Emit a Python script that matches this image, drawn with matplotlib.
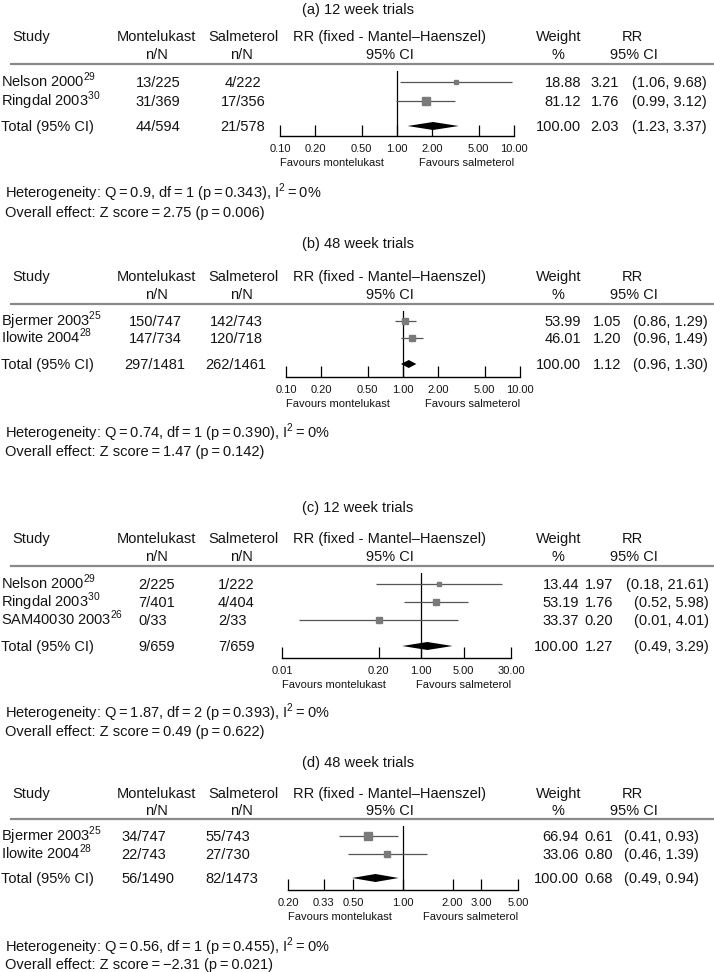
import matplotlib
matplotlib.use("Agg")
import numpy as np
import matplotlib.pyplot as plt
from matplotlib.lines import Line2D
from matplotlib.ticker import NullLocator

plt.rcParams["font.family"] = ["Liberation Sans", "DejaVu Sans"]

# -------------------------------------------------
# data
# (last entry of each list is the pooled total)
# -------------------------------------------------
a_study = ["Nelson 2000", "Ringdal 2003", "Total (95% CI)"]
a_ref = ["29", "30", ""]
a_mont = ["13/225", "31/369", "44/594"]
a_salm = ["4/222", "17/356", "21/578"]
a_weight = [18.88, 81.12, 100.00]
a_rr = [3.21, 1.76, 2.03]
a_lo = [1.06, 0.99, 1.23]
a_hi = [9.68, 3.12, 3.37]
a_ticks = [0.1, 0.2, 0.5, 1, 2, 5, 10]
a_ticklabels = ["0.10", "0.20", "0.50", "1.00", "2.00", "5.00", "10.00"]
a_het = "Heterogeneity: Q=0.9, df=1 (p=0.343), I$^{\\mathregular{2}}$=0%"
a_eff = "Overall effect: Z score=2.75 (p=0.006)"

b_study = ["Bjermer 2003", "Ilowite 2004", "Total (95% CI)"]
b_ref = ["25", "28", ""]
b_mont = ["150/747", "147/734", "297/1481"]
b_salm = ["142/743", "120/718", "262/1461"]
b_weight = [53.99, 46.01, 100.00]
b_rr = [1.05, 1.20, 1.12]
b_lo = [0.86, 0.96, 0.96]
b_hi = [1.29, 1.49, 1.30]
b_ticks = [0.1, 0.2, 0.5, 1, 2, 5, 10]
b_ticklabels = ["0.10", "0.20", "0.50", "1.00", "2.00", "5.00", "10.00"]
b_het = "Heterogeneity: Q=0.74, df=1 (p=0.390), I$^{\\mathregular{2}}$=0%"
b_eff = "Overall effect: Z score=1.47 (p=0.142)"

c_study = ["Nelson 2000", "Ringdal 2003", "SAM40030 2003", "Total (95% CI)"]
c_ref = ["29", "30", "26", ""]
c_mont = ["2/225", "7/401", "0/33", "9/659"]
c_salm = ["1/222", "4/404", "2/33", "7/659"]
c_weight = [13.44, 53.19, 33.37, 100.00]
c_rr = [1.97, 1.76, 0.20, 1.27]
c_lo = [0.18, 0.52, 0.01, 0.49]
c_hi = [21.61, 5.98, 4.01, 3.29]
# the left end of this axis is labelled 0.01 in the original
c_ticks = [0.0052, 0.2, 1, 5, 30]
c_ticklabels = ["0.01", "0.20", "1.00", "5.00", "30.00"]
c_het = "Heterogeneity: Q=1.87, df=2 (p=0.393), I$^{\\mathregular{2}}$=0%"
c_eff = "Overall effect: Z score=0.49 (p=0.622)"

d_study = ["Bjermer 2003", "Ilowite 2004", "Total (95% CI)"]
d_ref = ["25", "28", ""]
d_mont = ["34/747", "22/743", "56/1490"]
d_salm = ["55/743", "27/730", "82/1473"]
d_weight = [66.94, 33.06, 100.00]
d_rr = [0.61, 0.80, 0.68]
d_lo = [0.41, 0.46, 0.49]
d_hi = [0.93, 1.39, 0.94]
d_ticks = [0.2, 0.33, 0.5, 1, 2, 3, 5]
d_ticklabels = ["0.20", "0.33", "0.50", "1.00", "2.00", "3.00", "5.00"]
d_het = "Heterogeneity: Q=0.56, df=1 (p=0.455), I$^{\\mathregular{2}}$=0%"
d_eff = "Overall effect: Z score=\u22122.31 (p=0.021)"

titles = ["(a) 12 week trials", "(b) 48 week trials",
          "(c) 12 week trials", "(d) 48 week trials"]

# -------------------------------------------------
# layout (pixel positions on a 714 x 972 canvas)
# -------------------------------------------------
W, H = 714, 972
FS = 10.5
SMALL = 8
TXT = "#141414"
GREY = "#8a8a8a"
CI_COL = "#555555"
BOX_COL = "#7a7a7a"

panels = [
    dict(title=titles[0], study=a_study, ref=a_ref, mont=a_mont, salm=a_salm,
         weight=a_weight, rr=a_rr, lo=a_lo, hi=a_hi, ticks=a_ticks,
         ticklabels=a_ticklabels, het=a_het, eff=a_eff,
         y_title=9, y_h1=36, y_h2=54, y_div=64, y_rows=[82, 101, 126],
         y_axis=136, y_het=193, y_eff=212,
         ax_x=(280, 514), xlim=(0.1, 10),
         mont_col=(158, "center"), salm_col=(243, "center"),
         w_x=581, rr_x=619, ci_col=(632, "left")),
    dict(title=titles[1], study=b_study, ref=b_ref, mont=b_mont, salm=b_salm,
         weight=b_weight, rr=b_rr, lo=b_lo, hi=b_hi, ticks=b_ticks,
         ticklabels=b_ticklabels, het=b_het, eff=b_eff,
         y_title=243, y_h1=276, y_h2=294, y_div=304, y_rows=[321, 338, 364],
         y_axis=377, y_het=433, y_eff=451,
         ax_x=(286, 520), xlim=(0.1, 10),
         mont_col=(155, "center"), salm_col=(236, "center"),
         w_x=581, rr_x=621, ci_col=(633, "left")),
    dict(title=titles[2], study=c_study, ref=c_ref, mont=c_mont, salm=c_salm,
         weight=c_weight, rr=c_rr, lo=c_lo, hi=c_hi, ticks=c_ticks,
         ticklabels=c_ticklabels, het=c_het, eff=c_eff,
         y_title=507, y_h1=538, y_h2=556, y_div=566, y_rows=[584, 602, 620, 646],
         y_axis=658, y_het=713, y_eff=731,
         ax_x=(282, 511), xlim=(0.0052, 30),
         mont_col=(138, "left"), salm_col=(218, "left"),
         w_x=579, rr_x=613, ci_col=(709, "right")),
    dict(title=titles[3], study=d_study, ref=d_ref, mont=d_mont, salm=d_salm,
         weight=d_weight, rr=d_rr, lo=d_lo, hi=d_hi, ticks=d_ticks,
         ticklabels=d_ticklabels, het=d_het, eff=d_eff,
         y_title=762, y_h1=793, y_h2=810, y_div=819, y_rows=[836, 854, 878],
         y_axis=890, y_het=947, y_eff=964,
         ax_x=(288, 518), xlim=(0.2, 5),
         mont_col=(121, "left"), salm_col=(205, "left"),
         w_x=579, rr_x=613, ci_col=(624, "left")),
]

fig = plt.figure(figsize=(W / 100, H / 100), dpi=100)


def fx(x):
    return x / W


def fy(y):
    return 1 - y / H


def txt(x, y, s, ha="left", size=FS):
    # y is the visual centre of the line, text is placed on its baseline
    fig.text(fx(x), fy(y + size * 0.5), s, ha=ha, va="baseline",
             fontsize=size, color=TXT)


def spaced(s):
    # the original typesets "=" with thin spaces on both sides
    return s.replace("=", "\u2009=\u2009")


def draw_panel(p):
    txt(358, p["y_title"], p["title"], ha="center")

    # header
    txt(12, p["y_h1"], "Study")
    txt(156, p["y_h1"], "Montelukast", ha="center")
    txt(243, p["y_h1"], "Salmeterol", ha="center")
    txt(390, p["y_h1"], "RR (fixed - Mantel\u2013Haenszel)", ha="center")
    txt(559, p["y_h1"], "Weight", ha="center")
    txt(632, p["y_h1"], "RR", ha="center")
    txt(156, p["y_h2"], "n/N", ha="center")
    txt(241, p["y_h2"], "n/N", ha="center")
    txt(390, p["y_h2"], "95% CI", ha="center")
    txt(558, p["y_h2"], "%", ha="center")
    txt(634, p["y_h2"], "95% CI", ha="center")
    fig.add_artist(Line2D([fx(11), fx(W)], [fy(p["y_div"])] * 2,
                          color=GREY, lw=1.6))

    # table rows
    for i, y in enumerate(p["y_rows"]):
        name = p["study"][i]
        if p["ref"][i]:
            name += "$^{\\mathregular{%s}}$" % p["ref"][i]
        txt(1, y, name)
        txt(p["mont_col"][0], y, p["mont"][i], ha=p["mont_col"][1])
        txt(p["salm_col"][0], y, p["salm"][i], ha=p["salm_col"][1])
        txt(p["w_x"], y, f"{p['weight'][i]:.2f}", ha="right")
        txt(p["rr_x"], y, f"{p['rr'][i]:.2f}", ha="right")
        txt(p["ci_col"][0], y, f"({p['lo'][i]:.2f}, {p['hi'][i]:.2f})",
            ha=p["ci_col"][1])

    txt(5, p["y_het"], spaced(p["het"]))
    txt(5, p["y_eff"], spaced(p["eff"]))

    # forest plot
    x0, x1 = p["ax_x"]
    top = p["y_div"] + 7
    bot = p["y_axis"]
    ax = fig.add_axes([fx(x0), fy(bot), (x1 - x0) / W, (bot - top) / H])
    ax.patch.set_visible(False)
    ax.set_xscale("log")
    ax.set_xlim(*p["xlim"])
    ax.set_ylim(bot, top)
    for s in ["top", "left", "right"]:
        ax.spines[s].set_visible(False)
    ax.spines["bottom"].set_linewidth(1.0)
    ax.set_yticks([])
    ax.set_xticks(p["ticks"])
    ax.set_xticklabels(p["ticklabels"])
    ax.xaxis.set_minor_locator(NullLocator())
    ax.tick_params(axis="x", direction="in", length=8, width=0.9,
                   pad=6, labelsize=SMALL, labelcolor=TXT)
    ax.axvline(1, color="black", lw=0.9)

    n = len(p["rr"]) - 1
    ys = p["y_rows"][:n]
    ax.hlines(ys, p["lo"][:n], p["hi"][:n], color=CI_COL, lw=0.9)
    for i in range(n):
        side = 0.9 * np.sqrt(p["weight"][i]) * 0.72
        ax.plot(p["rr"][i], ys[i], marker="s", ms=side, color=BOX_COL,
                mec=BOX_COL, ls="none")
    ty = p["y_rows"][-1]
    ax.fill([p["lo"][-1], p["rr"][-1], p["hi"][-1], p["rr"][-1]],
            [ty, ty - 4, ty, ty + 4], color="black", lw=0)

    fav_y = bot + 26
    txt(x0, fav_y, "Favours montelukast", size=SMALL)
    txt(x1, fav_y, "Favours salmeterol", ha="right", size=SMALL)


for p in panels:
    draw_panel(p)

fig.savefig("out.png", dpi=100)
